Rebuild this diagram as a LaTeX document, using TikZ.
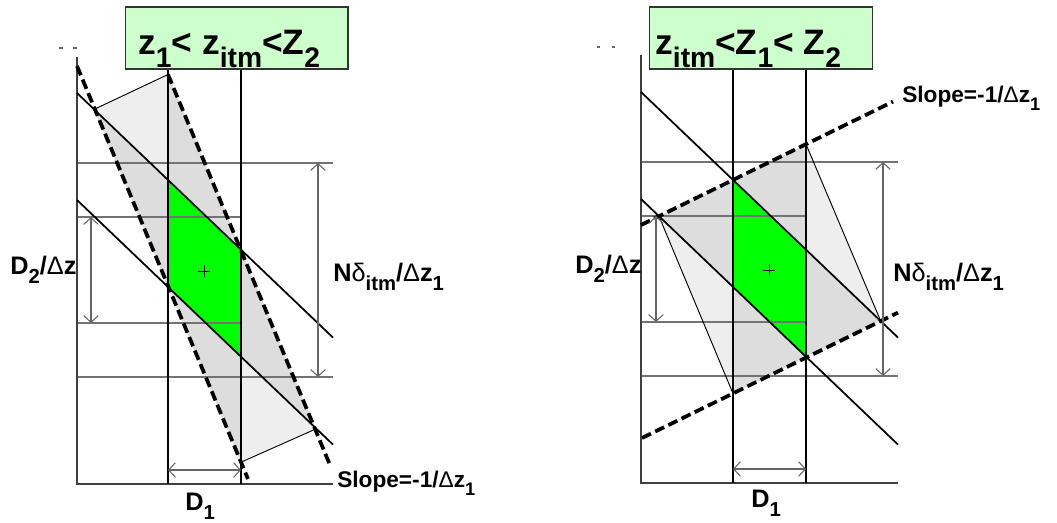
\documentclass[tikz,border=0pt]{standalone}
\usepackage{fontspec}
\setmainfont{Liberation Sans}
\usetikzlibrary{arrows.meta}
\definecolor{boxgreen}{HTML}{CCFFCC}
\definecolor{zonegreen}{HTML}{00FF00}
\definecolor{darkzone}{HTML}{DDDDDD}
\definecolor{lightzone}{HTML}{EEEEEE}
\newcommand{\lsub}[1]{\raisebox{-0.38em}{\scalebox{0.8}{#1}}}
\tikzset{
  % --- frame -------------------------------------------------
  axisline/.style={draw=black!75, line width=1.1pt},
  dline/.style={draw=black, line width=1.5pt},
  gridline/.style={draw=black!55, line width=0.9pt},
  tick/.style={draw=black!60, line width=0.8pt},
  dimarr/.style={draw=black!60, line width=0.8pt,
    {Straight Barb[length=5pt,width=11pt]}-{Straight Barb[length=5pt,width=11pt]}},
  % --- lines and zones ---------------------------------------
  diag/.style={draw=black, line width=1.3pt},
  slopeline/.style={draw=black, line width=2.8pt, dash pattern=on 7.5pt off 3.5pt},
  thinedge/.style={draw=black, line width=0.7pt},
  crossmark/.style={draw=black, line width=0.6pt},
  % --- text --------------------------------------------------
  titlebox/.style={draw=black!80, line width=1pt, fill=boxgreen,
    minimum width=167pt, minimum height=46.5pt, inner sep=0pt},
  titletxt/.style={font=\fontsize{26.5}{26.5}\selectfont\bfseries,
    anchor=base west, inner sep=0pt},
  lbl/.style={font=\fontsize{19}{19}\selectfont\bfseries,
    anchor=base west, inner sep=0pt},
  slopelbl/.style={font=\fontsize{17}{17}\selectfont\bfseries,
    anchor=base west, inner sep=0pt}
}
\begin{document}
\begin{tikzpicture}[x=0.75pt, y=-0.75pt]
  \useasboundingbox (0,0) rectangle (1057,522);

  % ================= Left panel: z1 < zitm < z2 =================
  \begin{scope}
    \coordinate (o) at (77,484);
    \coordinate (a) at (94,109.4);
    \coordinate (b) at (168,74.5);
    \coordinate (c) at (315.7,429);
    \coordinate (d) at (241,462.2);
    \coordinate (g1) at (168,180);
    \coordinate (g2) at (241,249.7);
    \coordinate (g3) at (241,357.7);
    \coordinate (g4) at (168,287);

    % zones
    \fill[lightzone] (a) -- (b) -- (c) -- (d) -- cycle;
    \fill[darkzone] (a) -- (g1) -- (b) -- (c) -- (g3) -- (d) -- cycle;
    \fill[zonegreen] (g1) -- (g2) -- (g3) -- (g4) -- cycle;

    % grid
    \draw[gridline] (77,163) -- (333,163);
    \draw[gridline] (77,217) -- (241,217);
    \draw[gridline] (77,323) -- (241,323);
    \draw[gridline] (77,377) -- (333,377);

    % title
    \node[titlebox] (lbox) at (236.5,38) {};
    \node[titletxt] (ltitle) at (138,54) {z\lsub{1}< z\lsub{itm}<Z\lsub{2}};
    \draw[tick] (59,48) -- (63,48) (73,48) -- (77,48);

    % axes and D1 bounds
    \draw[axisline] (77,57) -- (o) -- (333,484);
    \draw[dline] (168,0 |- lbox.south) -- (168,484);
    \draw[dline] (241,0 |- lbox.south) -- (241,484);

    % zone edges
    \draw[thinedge] (a) -- (b);
    \draw[thinedge] (c) -- (d);
    \draw[diag] (77,93) -- (333,337.6);
    \draw[diag] (77,200) -- (333,444.6);
    \draw[slopeline] (77,66) -- (248,479);
    \draw[slopeline] (b) -- (330,465);
    \draw[crossmark] (198,271) -- (210,271) (204,265) -- (204,277);

    % dimensions
    \draw[dimarr] (91,217) -- (91,323);
    \draw[dimarr] (318,163) -- (318,377);
    \draw[dimarr] (168,470) -- (241,470);

    \node[lbl] (ld2) at (10,274) {D\lsub{2}/{\mdseries Δ}z};
    \node[lbl] (lnd) at (333,281) {N{\mdseries δ}\lsub{itm}/{\mdseries Δ}z\lsub{1}};
    \node[lbl] (ld1) at (185,510) {D\lsub{1}};
    \node[slopelbl] (lslope) at (337,487) {Slope=-1/{\mdseries Δ}z\lsub{1}};
  \end{scope}

  % ================= Right panel: zitm < z1 < z2 =================
  \begin{scope}[shift={(565,0)}]
    \coordinate (a) at (94,216.3);
    \coordinate (b) at (241,144.2);
    \coordinate (c) at (315.7,321);
    \coordinate (d) at (168,393.5);
    \coordinate (g1) at (168,180);
    \coordinate (g2) at (241,249.7);
    \coordinate (g3) at (241,357.7);
    \coordinate (g4) at (168,287);

    % zones
    \fill[lightzone] (a) -- (b) -- (c) -- (d) -- cycle;
    \fill[darkzone] (a) -- (b) -- (g2) -- (c) -- (d) -- (g4) -- cycle;
    \fill[zonegreen] (g1) -- (g2) -- (g3) -- (g4) -- cycle;

    % grid
    \draw[gridline] (76,162) -- (333,162);
    \draw[gridline] (76,216) -- (241,216);
    \draw[gridline] (76,322) -- (241,322);
    \draw[gridline] (76,376) -- (333,376);

    % title
    \node[titlebox] (rbox) at (196,38) {};
    \node[titletxt] (rtitle) at (90,54) {z\lsub{itm}<Z\lsub{1}< Z\lsub{2}};
    \draw[tick] (32,47) -- (35,47) (47,47) -- (50,47);

    % axes and D1 bounds
    \draw[axisline] (76,55) -- (76,483) -- (333,483);
    \draw[dline] (168,0 |- rbox.south) -- (168,483);
    \draw[dline] (241,0 |- rbox.south) -- (241,483);

    % zone edges
    \draw[thinedge] (a) -- (d);
    \draw[thinedge] (b) -- (c);
    \draw[diag] (76,92) -- (333,337.6);
    \draw[diag] (76,199) -- (333,444.6);
    \draw[slopeline] (76,225) -- (328,101.6);
    \draw[slopeline] (77,438) -- (333,312.6);
    \draw[crossmark] (198,270) -- (210,270) (204,264) -- (204,276);

    % dimensions
    \draw[dimarr] (91,216) -- (91,322);
    \draw[dimarr] (318,162) -- (318,376);
    \draw[dimarr] (168,469) -- (241,469);

    \node[lbl] (rd2) at (10,273) {D\lsub{2}/{\mdseries Δ}z};
    \node[lbl] (rnd) at (328,281) {N{\mdseries δ}\lsub{itm}/{\mdseries Δ}z\lsub{1}};
    \node[lbl] (rd1) at (186,507) {D\lsub{1}};
    \node[slopelbl] (rslope) at (337,102) {Slope=-1/{\mdseries Δ}z\lsub{1}};
  \end{scope}
\end{tikzpicture}
\end{document}
